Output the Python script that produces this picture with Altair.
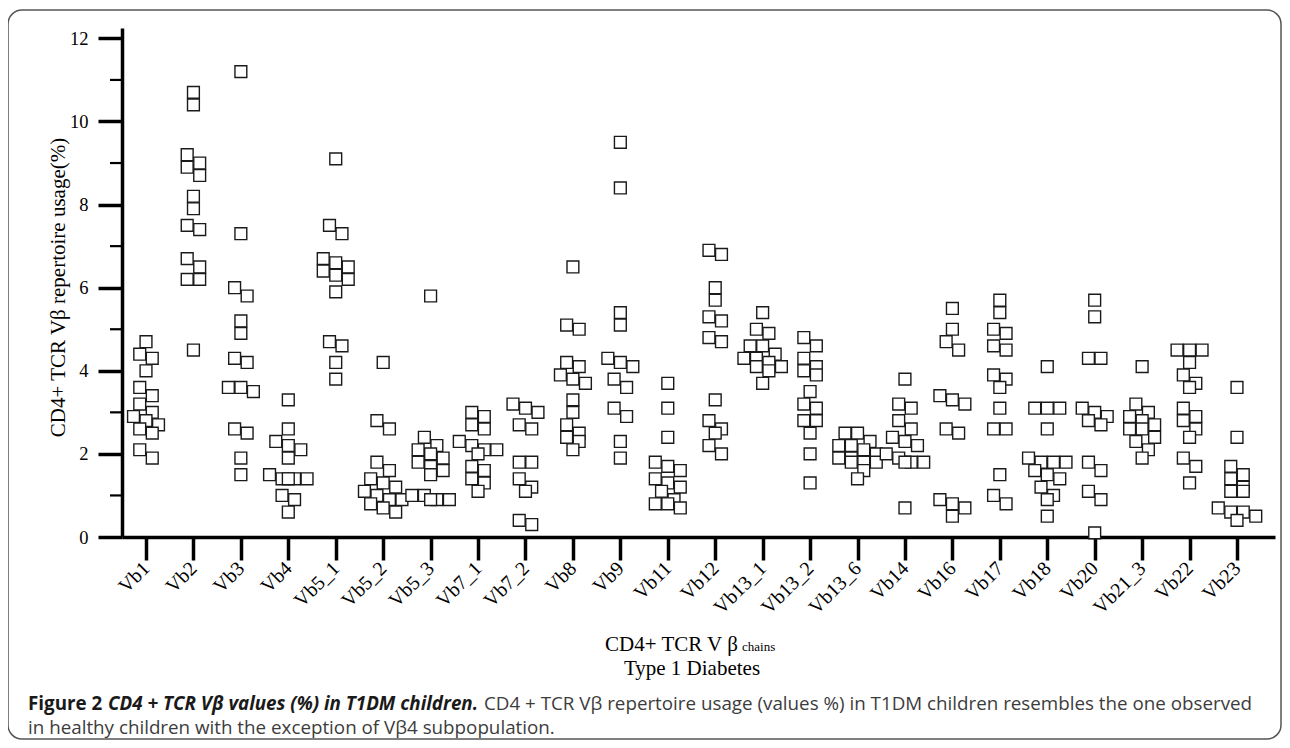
import json
import altair as alt
import pandas as pd

# ---------------- data ----------------
cats = ["Vb1", "Vb2", "Vb3", "Vb4", "Vb5_1", "Vb5_2", "Vb5_3", "Vb7_1", "Vb7_2",
        "Vb8", "Vb9", "Vb11", "Vb12", "Vb13_1", "Vb13_2", "Vb13_6", "Vb14",
        "Vb16", "Vb17", "Vb18", "Vb20", "Vb21_3", "Vb22", "Vb23"]

vb1 = [4.7, 4.4, 4.3, 4.0, 3.6, 3.4, 3.2, 3.0, 2.9, 2.8, 2.7, 2.6, 2.5, 2.1, 1.9]
vb2 = [10.7, 10.4, 9.2, 9.0, 8.9, 8.7, 8.2, 7.9, 7.5, 7.4, 6.7, 6.5, 6.2, 6.2, 4.5]
vb3 = [11.2, 7.3, 6.0, 5.8, 5.2, 4.9, 4.3, 4.2, 3.6, 3.6, 3.5, 2.6, 2.5, 1.9, 1.5]
vb4 = [3.3, 2.6, 2.3, 2.2, 2.1, 1.9, 1.5, 1.4, 1.4, 1.4, 1.4, 1.0, 0.9, 0.6]
vb5_1 = [9.1, 7.5, 7.3, 6.7, 6.6, 6.5, 6.4, 6.3, 6.2, 5.9, 4.7, 4.6, 4.2, 3.8]
vb5_2 = [4.2, 2.8, 2.6, 1.8, 1.6, 1.4, 1.3, 1.2, 1.1, 1.0, 0.9, 0.9, 0.8, 0.7, 0.6]
vb5_3 = [5.8, 2.4, 2.2, 2.1, 2.0, 1.9, 1.8, 1.7, 1.6, 1.5, 1.0, 1.0, 0.9, 0.9, 0.9]
vb7_1 = [3.0, 2.9, 2.7, 2.6, 2.3, 2.2, 2.1, 2.1, 2.0, 1.7, 1.6, 1.4, 1.3, 1.1]
vb7_2 = [3.2, 3.1, 3.0, 2.7, 2.6, 1.8, 1.8, 1.4, 1.2, 1.1, 0.4, 0.3]
vb8 = [6.5, 5.1, 5.0, 4.2, 4.1, 3.9, 3.8, 3.7, 3.3, 3.0, 2.7, 2.5, 2.4, 2.3, 2.1]
vb9 = [9.5, 8.4, 5.4, 5.1, 4.3, 4.2, 4.1, 3.8, 3.6, 3.1, 2.9, 2.3, 1.9]
vb11 = [3.7, 3.1, 2.4, 1.8, 1.7, 1.6, 1.4, 1.3, 1.2, 1.1, 0.9, 0.8, 0.8, 0.7]
vb12 = [6.9, 6.8, 6.0, 5.7, 5.3, 5.2, 4.8, 4.7, 3.3, 2.8, 2.6, 2.5, 2.2, 2.0]
vb13_1 = [5.4, 5.0, 4.9, 4.6, 4.6, 4.4, 4.3, 4.3, 4.2, 4.1, 4.1, 4.0, 3.7]
vb13_2 = [4.8, 4.6, 4.3, 4.1, 4.0, 3.9, 3.5, 3.2, 3.1, 2.8, 2.8, 2.5, 2.0, 1.3]
vb13_6 = [2.5, 2.5, 2.3, 2.2, 2.2, 2.1, 2.0, 1.9, 1.9, 1.8, 1.8, 1.8, 1.6, 1.4]
vb14 = [3.8, 3.2, 3.1, 2.8, 2.6, 2.4, 2.3, 2.2, 2.0, 1.9, 1.8, 1.8, 1.8, 0.7]
vb16 = [5.5, 5.0, 4.7, 4.5, 3.4, 3.3, 3.2, 2.6, 2.5, 0.9, 0.8, 0.7, 0.5]
vb17 = [5.7, 5.4, 5.0, 4.9, 4.6, 4.5, 3.9, 3.8, 3.6, 3.1, 2.6, 2.6, 1.5, 1.0, 0.8]
vb18 = [4.1, 3.1, 3.1, 3.1, 2.6, 1.9, 1.8, 1.8, 1.8, 1.6, 1.5, 1.4, 1.2, 1.0, 0.9, 0.5]
vb20 = [5.7, 5.3, 4.3, 4.3, 3.1, 3.0, 2.9, 2.8, 2.7, 1.8, 1.6, 1.1, 0.9, 0.1]
vb21_3 = [4.1, 3.2, 3.0, 2.9, 2.8, 2.7, 2.6, 2.6, 2.4, 2.3, 2.1, 1.9]
vb22 = [4.5, 4.5, 4.5, 4.2, 3.9, 3.7, 3.6, 3.1, 2.9, 2.8, 2.6, 2.4, 1.9, 1.7, 1.3]
vb23 = [3.6, 2.4, 1.7, 1.5, 1.4, 1.2, 1.1, 1.1, 0.7, 0.6, 0.6, 0.5, 0.4]

series = [vb1, vb2, vb3, vb4, vb5_1, vb5_2, vb5_3, vb7_1, vb7_2, vb8, vb9, vb11,
          vb12, vb13_1, vb13_2, vb13_6, vb14, vb16, vb17, vb18, vb20, vb21_3,
          vb22, vb23]

y_ticks = [0, 2, 4, 6, 8, 10, 12]
y_minor = [1, 3, 5, 7, 9, 11]

y_title = "CD4+ TCR V\u03b2 repertoire usage(%)"
x_title_main = "CD4+ TCR V \u03b2"
x_title_small = "chains"
x_title_line2 = "Type 1 Diabetes"
cap_bold = "Figure 2"
cap_italic = "CD4 + TCR V\u03b2 values (%) in T1DM children."
cap_rest1 = "CD4 + TCR V\u03b2 repertoire usage (values %) in T1DM children resembles the one observed"
cap_line2 = "in healthy children with the exception of V\u03b24 subpopulation."

# ---------------- layout constants ----------------
W, H = 1153, 509
X_DOMAIN = [-0.506, 23.801]
Y_DOMAIN = [0, 12.25]
step_px = W / (X_DOMAIN[1] - X_DOMAIN[0])
ypx = H / (Y_DOMAIN[1] - Y_DOMAIN[0])
SQ = 12.5

# deterministic scatter-column spreading (no randomness)
rows = []
for i, vals in enumerate(series):
    vs = sorted(vals, reverse=True)
    groups = []
    for v in vs:
        if groups and (groups[-1][0] - v) * ypx < SQ * 0.75 and len(groups[-1]) < 4:
            groups[-1].append(v)
        else:
            groups.append([v])
    for g in groups:
        n = len(g)
        for k, v in enumerate(g):
            off = (k - (n - 1) / 2) * SQ
            rows.append({"cat": cats[i], "value": v, "pos": i + off / step_px})
df = pd.DataFrame(rows)

label_expr = json.dumps(cats) + "[datum.value]"
SERIF = "Liberation Serif"
SANS = "Open Sans"

y_scale = alt.Scale(domain=Y_DOMAIN, nice=False)
y_axis = alt.Axis(values=y_ticks, title=y_title, grid=False, tickSize=24,
                  tickWidth=3.5, domainWidth=3.5, domainColor="black",
                  tickColor="black", labelFont=SERIF, labelFontSize=18.5,
                  labelColor="black", labelPadding=10, labelFlush=False,
                  titleFont=SERIF, titleFontSize=21, titleFontWeight="normal",
                  titleColor="black", titleX=-64, titleY=259,
                  titleBaseline="middle", titleAngle=270)

points = alt.Chart(df).mark_point(
    shape="square", size=140, filled=False, fill="white", fillOpacity=1,
    stroke="#1a1a1a", strokeWidth=1.4, opacity=1
).encode(
    x=alt.X("pos:Q", scale=alt.Scale(domain=X_DOMAIN, nice=False, zero=False),
            axis=alt.Axis(values=list(range(len(cats))), labelExpr=label_expr,
                          title=None, grid=False, tickSize=23, tickWidth=3.5,
                          domainWidth=3.5, domainColor="black", tickColor="black",
                          labelAngle=315, labelAlign="right", labelBaseline="middle",
                          labelFont=SERIF, labelFontSize=20, labelColor="black",
                          labelPadding=5, labelOverlap=False, labelBound=False,
                          labelFlush=False)),
    y=alt.Y("value:Q", scale=y_scale, axis=y_axis),
)

minor = alt.Chart(pd.DataFrame({"value": y_minor})).mark_rule(
    color="black", strokeWidth=2.2
).encode(y=alt.Y("value:Q", scale=y_scale, axis=y_axis),
         x=alt.value(-12), x2=alt.value(0))


def text_layer(txt, x, y, size, font, align="left", weight="normal", style="normal",
               color="black"):
    return alt.Chart(pd.DataFrame({"t": [txt]})).mark_text(
        align=align, baseline="alphabetic", fontSize=size, font=font,
        fontWeight=weight, fontStyle=style, color=color
    ).encode(x=alt.value(x), y=alt.value(y), text="t:N")


xt1 = text_layer(x_title_main, 483, 623, 21, SERIF)
xt2 = text_layer(x_title_small, 620, 623, 13, SERIF)
xt3 = text_layer(x_title_line2, 570, 647, 21, SERIF, align="center")

CAP = 18.8
c1 = text_layer(cap_bold, -94, 682, CAP, SANS, weight="bold", color="#1a1a1a")
c2 = text_layer(cap_italic, -14, 682, CAP, SANS, weight="bold", style="italic",
                color="#1a1a1a")
c3 = text_layer(cap_rest1, 362, 682, CAP, SANS, color="#3c3c3c")
c4 = text_layer(cap_line2, -94, 706, CAP, SANS, color="#3c3c3c")

frame = alt.Chart(pd.DataFrame({"t": [0]})).mark_rect(
    fillOpacity=0, stroke="#555555", strokeWidth=1.5, cornerRadius=14
).encode(x=alt.value(-114), x2=alt.value(1159), y=alt.value(-18), y2=alt.value(711))

chart = alt.layer(frame, minor, points, xt1, xt2, xt3, c1, c2, c3, c4).properties(
    width=W, height=H,
    autosize=alt.AutoSizeParams(type="none"),
    padding={"left": 114, "top": 20, "right": 7, "bottom": 203},
    background="white",
).configure_view(stroke=None)

chart.save("out.html", embed_options={"renderer": "svg", "actions": False})
